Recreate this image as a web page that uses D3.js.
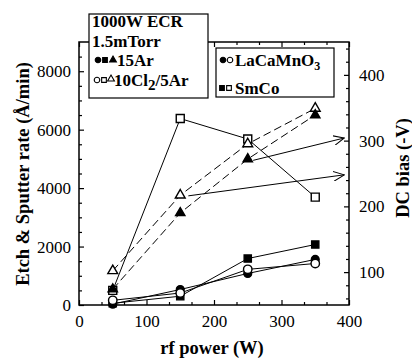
<!DOCTYPE html>
<html><head><meta charset="utf-8">
<script src="https://cdn.jsdelivr.net/npm/d3@7"></script>
<style>
html,body{margin:0;padding:0;background:#fff;}
svg{display:block;}
svg text{font-family:"Liberation Serif","Times New Roman",serif !important;fill:#000;}
</style></head>
<body>
<svg id="chart" width="412" height="361"></svg>
<script>
// ---- data ----
const power = [50, 150, 250, 350];
const lcmoAr = [30, 530, 1080, 1560];      // filled circles (Å/min)
const lcmoCl = [160, 410, 1220, 1420];     // open circles (Å/min)
const smcoAr = [60, 300, 1590, 2070];      // filled squares (Å/min)
const smcoCl = [500, 6380, 5680, 3690];    // open squares (Å/min)
const biasAr = [74, 190, 272, 339];        // filled triangles, DC bias (-V)
const biasCl = [102, 217, 295, 349];       // open triangles, DC bias (-V)
const xTicks = [0, 100, 200, 300, 400];
const yLeftTicks = [0, 2000, 4000, 6000, 8000];
const yRightTicks = [100, 200, 300, 400];
// arrows pointing to DC bias axis: [fromPower, fromBias, toPower, toBias]
const arrows = [[258, 270, 393, 304], [162, 216, 393, 248]];

const FONT = "Liberation Serif";

// ---- layout ----
const svg = d3.select("#chart").attr("font-family", FONT);
const L = 79, R = 349, T = 42, B = 305;
const x = d3.scaleLinear().domain([0, 400]).range([L, R]);
const yL = d3.scaleLinear().domain([0, 9000]).range([B, T]);
const yR = d3.scaleLinear().domain([50, 450]).range([B, T]);

// frame
svg.append("rect").attr("x", L).attr("y", T).attr("width", R - L).attr("height", B - T)
  .attr("fill", "none").attr("stroke", "#000").attr("stroke-width", 1.5);

// axes (ticks inward)
function styleAxis(g) {
  g.attr("font-family", FONT).attr("font-size", 17);
  g.select(".domain").remove();
  g.selectAll("line").attr("stroke", "#000").attr("stroke-width", 1.2);
  g.selectAll("text").attr("font-family", FONT).attr("font-size", 17);
}
const xMinor = d3.range(0, 401, 100 / 3).filter(v => v % 100 > 1 && v % 100 < 99);
svg.append("g").attr("transform", `translate(0,${B})`)
  .call(d3.axisBottom(x).tickValues(xTicks).tickSize(-5).tickPadding(10).tickFormat(d3.format("d")))
  .call(styleAxis);
svg.append("g").attr("transform", `translate(0,${B})`)
  .call(d3.axisBottom(x).tickValues(xMinor).tickSize(-3).tickFormat(""))
  .call(styleAxis);
svg.append("g").attr("transform", `translate(0,${T})`)
  .call(d3.axisTop(x).tickValues(xTicks).tickSize(-5).tickFormat(""))
  .call(styleAxis);
svg.append("g").attr("transform", `translate(0,${T})`)
  .call(d3.axisTop(x).tickValues(xMinor).tickSize(-3).tickFormat(""))
  .call(styleAxis);
svg.append("g").attr("transform", `translate(${L},0)`)
  .call(d3.axisLeft(yL).tickValues(yLeftTicks).tickSize(-5).tickPadding(8).tickFormat(d3.format("d")))
  .call(styleAxis);
svg.append("g").attr("transform", `translate(${L},0)`)
  .call(d3.axisLeft(yL).tickValues(d3.range(500, 9000, 500).filter(v => v % 2000)).tickSize(-3).tickFormat(""))
  .call(styleAxis);
svg.append("g").attr("transform", `translate(${R},0)`)
  .call(d3.axisRight(yR).tickValues(yRightTicks).tickSize(-5).tickPadding(10).tickFormat(d3.format("d")))
  .call(styleAxis);
svg.append("g").attr("transform", `translate(${R},0)`)
  .call(d3.axisRight(yR).tickValues(d3.range(60, 450, 20).filter(v => v % 100)).tickSize(-3).tickFormat(""))
  .call(styleAxis);

// axis titles
const title = (t) => svg.append("text").attr("text-anchor", "middle").attr("font-family", FONT)
  .attr("font-size", 18.5).attr("font-weight", "bold").text(t);
title("Etch & Sputter rate (Å/min)").attr("transform", `translate(29,174) rotate(-90)`);
title("DC bias (-V)").attr("transform", `translate(409,168) rotate(-90)`);
title("rf power (W)").attr("x", 212).attr("y", 354);

// series
const series = [
  {vals: smcoCl, y: yL, sym: d3.symbolSquare, size: 64, fill: "#fff", dash: null},
  {vals: biasCl, y: yR, sym: d3.symbolTriangle, size: 42, fill: "#fff", dash: "8,4"},
  {vals: biasAr, y: yR, sym: d3.symbolTriangle, size: 38, fill: "#000", dash: "8,4"},
  {vals: smcoAr, y: yL, sym: d3.symbolSquare, size: 52, fill: "#000", dash: null},
  {vals: lcmoAr, y: yL, sym: d3.symbolCircle, size: 48, fill: "#000", dash: null},
  {vals: lcmoCl, y: yL, sym: d3.symbolCircle, size: 56, fill: "#fff", dash: null},
];
const line = (ys) => d3.line().x((d, i) => x(power[i])).y(d => ys(d));
series.forEach(s => {
  svg.append("path").datum(s.vals).attr("d", line(s.y)).attr("fill", "none")
    .attr("stroke", "#000").attr("stroke-width", 1).attr("stroke-dasharray", s.dash);
});

// arrows
svg.append("defs").append("marker").attr("id", "ah").attr("viewBox", "0 0 12 10")
  .attr("refX", 11).attr("refY", 5).attr("markerWidth", 12).attr("markerHeight", 10)
  .attr("markerUnits", "userSpaceOnUse").attr("orient", "auto")
  .append("path").attr("d", "M0,0 L11,5 L0,10").attr("fill", "none").attr("stroke", "#000").attr("stroke-width", 1);
arrows.forEach(a => {
  svg.append("line").attr("x1", x(a[0])).attr("y1", yR(a[1])).attr("x2", x(a[2])).attr("y2", yR(a[3]))
    .attr("stroke", "#000").attr("stroke-width", 1).attr("marker-end", "url(#ah)");
});

series.forEach(s => {
  svg.append("g").selectAll("path").data(s.vals).join("path")
    .attr("transform", (d, i) => `translate(${x(power[i])},${s.y(d)})`)
    .attr("d", d3.symbol().type(s.sym).size(s.size))
    .attr("fill", s.fill).attr("stroke", "#000").attr("stroke-width", 1.4);
});

// legend box 1
const g1 = svg.append("g");
g1.append("rect").attr("x", 89).attr("y", 14).attr("width", 119).attr("height", 84)
  .attr("fill", "#fff").attr("stroke", "#000").attr("stroke-width", 1.2);
const bold = (g, xx, yy, t) => g.append("text").attr("x", xx).attr("y", yy).attr("font-family", FONT)
  .attr("font-size", 17).attr("font-weight", "bold").text(t);
bold(g1, 92, 27, "1000W ECR");
bold(g1, 92, 47, "1.5mTorr");
const lm = (g, sym, size, fill, cx, cy) => g.append("path").attr("transform", `translate(${cx},${cy})`)
  .attr("d", d3.symbol().type(sym).size(size)).attr("fill", fill).attr("stroke", "#000").attr("stroke-width", 1.1);
lm(g1, d3.symbolCircle, 24, "#000", 98, 60);
lm(g1, d3.symbolSquare, 22, "#000", 105, 60);
lm(g1, d3.symbolTriangle, 20, "#000", 113, 60);
bold(g1, 117, 66, "15Ar");
lm(g1, d3.symbolCircle, 24, "#fff", 97, 80);
lm(g1, d3.symbolSquare, 22, "#fff", 104, 80);
lm(g1, d3.symbolTriangle, 20, "#fff", 111, 79);
const t4 = bold(g1, 114, 86, "10Cl");
t4.append("tspan").attr("dy", 4).attr("font-size", 15).text("2");
t4.append("tspan").attr("dy", -4).text("/5Ar");

// legend box 2
const g2 = svg.append("g");
g2.append("rect").attr("x", 216).attr("y", 48).attr("width", 118).attr("height", 49)
  .attr("fill", "#fff").attr("stroke", "#000").attr("stroke-width", 1.2);
lm(g2, d3.symbolCircle, 24, "#000", 223, 60);
lm(g2, d3.symbolCircle, 24, "#fff", 230, 60);
const t5 = bold(g2, 235, 66, "LaCaMnO");
t5.append("tspan").attr("dy", 4).attr("font-size", 12).text("3");
lm(g2, d3.symbolSquare, 22, "#000", 222, 88);
lm(g2, d3.symbolSquare, 22, "#fff", 229, 88);
bold(g2, 235, 94, "SmCo");
</script>
</body></html>
